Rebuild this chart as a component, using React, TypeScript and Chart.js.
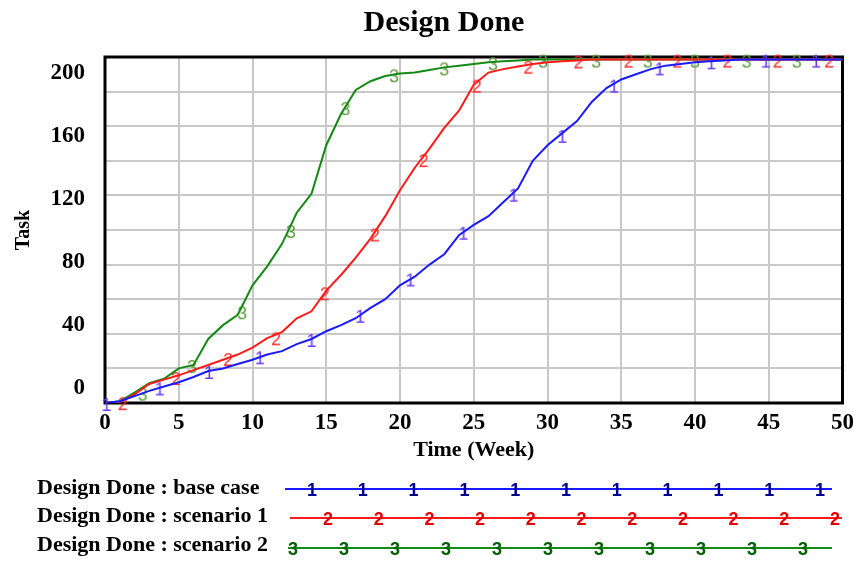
import React, { useEffect, useRef } from 'react';
import { Chart, registerables } from 'chart.js';

Chart.register(...registerables);

// ---- data ----
const WEEKS = [
  0, 1, 2, 3, 4, 5, 6, 7, 8, 9, 10, 11, 12, 13, 14, 15, 16, 17, 18, 19, 20,
  21, 22, 23, 24, 25, 26, 27, 28, 29, 30, 31, 32, 33, 34, 35, 36, 37, 38, 39, 40,
  41, 42, 43, 44, 45, 46, 47, 48, 49, 50,
];
const BASE_CASE = [
  0, 1, 4, 7, 9.5, 12, 15, 18.5, 20, 22.5, 25, 28, 30, 34, 37, 41.5, 45, 49, 55, 60, 68,
  73, 80, 86, 97, 103, 108, 116, 124, 140, 149, 156, 163, 174, 182, 187, 190, 193, 195, 196, 197,
  197.5, 198, 198.5, 198.5, 198.5, 198.5, 198.5, 198.5, 198.5, 198.5,
];
const SCENARIO_1 = [
  0, 0.5, 5, 11, 13.5, 16, 19, 22, 25, 28, 32, 37.5, 41, 49, 53, 65, 74, 84, 95, 108, 123,
  136, 147, 159, 169, 184, 191, 193, 194.5, 196, 197, 197.5, 198, 198.5, 198.5, 198.5, 198.5, 198.5, 198.5, 198.5, 198.5,
  198.5, 198.5, 198.5, 198.5, 198.5, 198.5, 198.5, 198.5, 198.5, 198.5,
];
const SCENARIO_2 = [
  0, 1, 6, 11.5, 14, 20, 22, 37, 45, 51, 68, 79, 92, 110, 121, 149, 167, 181, 186, 189, 190.5,
  191, 192.5, 194, 195, 196, 197, 197.5, 198, 198.5, 198.5, 198.5, 198.5, 198.5, 198.5, 198.5, 198.5, 198.5, 198.5, 198.5, 198.5,
  198.5, 198.5, 198.5, 198.5, 198.5, 198.5, 198.5, 198.5, 198.5, 198.5,
];

// numbered curve markers (time, value) as seen on the picture
const BASE_MARK_T = [0.1, 3.7, 7.05, 10.5, 14.0, 17.3, 20.7, 24.3, 27.7, 31.0, 34.5, 37.6, 41.1, 44.8, 48.2];
const BASE_MARK_V = [0, 9, 18.5, 27, 37, 51, 72, 99, 121, 155, 184, 194, 197.5, 198.5, 198.5];
const S1_MARK_T = [1.2, 4.8, 8.35, 11.6, 14.9, 18.3, 21.6, 25.2, 28.7, 32.1, 35.5, 38.8, 42.2, 45.6, 49.1];
const S1_MARK_V = [0.5, 15, 26, 38, 64, 98, 141, 184, 195, 198, 198.5, 198.5, 198.5, 198.5, 198.5];
const S2_MARK_T = [2.55, 5.9, 9.3, 12.6, 16.3, 19.6, 23.0, 26.3, 29.7, 33.3, 36.8, 40.0, 43.5, 46.9];
const S2_MARK_V = [6, 22, 53, 100, 171, 190, 194, 197, 198.5, 198.5, 198.5, 198.5, 198.5, 198.5];

const Y_TICKS = [0, 40, 80, 120, 160, 200];
const X_STEP = 5;
const TITLE = 'Design Done';
const X_TITLE = 'Time (Week)';
const Y_TITLE = 'Task';
const LEGEND_LABELS = ['Design Done : base case', 'Design Done : scenario 1', 'Design Done : scenario 2'];
const SERIES_COLORS = ['#1a1aff', '#ff1a1a', '#138a13'];
const MARK_COLORS = ['#6a3cf0', '#ff2a2a', '#5c9c3c'];
const LEGEND_MARK_COLORS = ['#000090', '#e00000', '#006000'];
const MARK_CHARS = ['1', '2', '3'];

const FONT = "'Liberation Serif', 'Times New Roman', serif";

function glyph(ch: string, color: string, font: string, w: number, h: number, dy: number) {
  const c = document.createElement('canvas');
  c.width = w;
  c.height = h;
  const g = c.getContext('2d')!;
  g.font = font;
  g.fillStyle = color;
  g.textAlign = 'center';
  g.textBaseline = 'middle';
  g.fillText(ch, w / 2, h / 2 + dy);
  return c;
}

const zip = (xs: number[], ys: number[]) => xs.map((x, i) => ({ x, y: ys[i] }));

export default function App() {
  const ref = useRef<HTMLCanvasElement | null>(null);

  useEffect(() => {
    if (!ref.current) return;
    const marks = MARK_CHARS.map((ch, i) =>
      glyph(ch, MARK_COLORS[i], "18px 'Liberation Sans', Arial, sans-serif", 18, 24, 3)
    );

    const titlePlugin = {
      id: 'customTitle',
      afterDraw(chart: any) {
        const ctx = chart.ctx;
        ctx.save();
        ctx.font = `bold 30px ${FONT}`;
        ctx.fillStyle = '#000';
        ctx.textAlign = 'center';
        ctx.textBaseline = 'middle';
        ctx.fillText(TITLE, 444, 23);
        ctx.restore();
      },
    };

    const framePlugin = {
      id: 'frame',
      beforeDatasetsDraw(chart: any) {
        const { ctx, chartArea } = chart;
        const { left, top, right, bottom } = chartArea;
        ctx.save();
        ctx.strokeStyle = '#000';
        ctx.lineWidth = 3;
        ctx.strokeRect(left, top, right - left, bottom - top);
        ctx.restore();
      },
    };

    const legendRows = [
      { y: 489, ty: 488, x0: 285, x1: 832, m0: 312, step: 50.8 },
      { y: 518, ty: 516, x0: 290, x1: 842, m0: 328, step: 50.7 },
      { y: 548, ty: 545, x0: 288, x1: 832, m0: 293, step: 51 },
    ];
    const legendPlugin = {
      id: 'vensimLegend',
      afterDraw(chart: any) {
        const ctx = chart.ctx;
        ctx.save();
        legendRows.forEach((r, i) => {
          ctx.font = `bold 22px ${FONT}`;
          ctx.fillStyle = '#000';
          ctx.textAlign = 'left';
          ctx.textBaseline = 'middle';
          ctx.fillText(LEGEND_LABELS[i], 37, r.ty);
          ctx.strokeStyle = SERIES_COLORS[i];
          ctx.lineWidth = 2;
          ctx.beginPath();
          ctx.moveTo(r.x0, r.y);
          ctx.lineTo(r.x1, r.y);
          ctx.stroke();
          ctx.font = "bold 18px 'Liberation Sans', Arial, sans-serif";
          ctx.fillStyle = LEGEND_MARK_COLORS[i];
          ctx.textAlign = 'center';
          for (let k = 0; k <= 10; k++) {
            ctx.fillText(MARK_CHARS[i], r.m0 + k * r.step, r.y + 2);
          }
        });
        ctx.restore();
      },
    };

    const lineSet = (label: string, vals: number[], color: string) => ({
      label,
      data: zip(WEEKS, vals),
      borderColor: color,
      backgroundColor: color,
      borderWidth: 2,
      pointRadius: 0,
      tension: 0,
      fill: false,
      yAxisID: 'y',
    });
    const markSet = (label: string, ts: number[], vs: number[], img: HTMLCanvasElement) => ({
      label,
      data: zip(ts, vs),
      showLine: false,
      pointStyle: img,
      pointRadius: 4,
      borderWidth: 0,
      clip: false,
      yAxisID: 'y',
    });

    const gridColor = '#c8c8c8';
    const chart = new Chart(ref.current, {
      type: 'line',
      data: {
        datasets: [
          lineSet(LEGEND_LABELS[0], BASE_CASE, SERIES_COLORS[0]),
          lineSet(LEGEND_LABELS[1], SCENARIO_1, SERIES_COLORS[1]),
          lineSet(LEGEND_LABELS[2], SCENARIO_2, SERIES_COLORS[2]),
          markSet('m1', BASE_MARK_T, BASE_MARK_V, marks[0]),
          markSet('m2', S1_MARK_T, S1_MARK_V, marks[1]),
          markSet('m3', S2_MARK_T, S2_MARK_V, marks[2]),
        ] as any,
      },
      options: {
        animation: false,
        responsive: false,
        devicePixelRatio: 1,
        layout: { padding: { top: 57, left: 0, right: 11, bottom: 94 } },
        plugins: {
          legend: { display: false },
          title: { display: false },
          tooltip: { enabled: false },
        },
        scales: {
          x: {
            type: 'linear',
            min: 0,
            max: 50,
            position: 'bottom',
            ticks: {
              stepSize: X_STEP,
              color: '#000',
              font: { family: FONT, size: 23, weight: 'bold' },
              padding: 6,
              maxRotation: 0,
            },
            grid: { color: gridColor, lineWidth: 2, drawTicks: false },
            border: { display: false },
            title: {
              display: true,
              text: X_TITLE,
              color: '#000',
              font: { family: FONT, size: 22, weight: 'bold' },
              padding: { top: 3, bottom: 3 },
            },
            afterFit: (s: any) => {
              s.height = 64;
            },
          },
          y: {
            type: 'linear',
            position: 'left',
            min: 0,
            max: 200,
            ticks: { stepSize: 20, display: false },
            grid: { color: gridColor, lineWidth: 2, drawTicks: false },
            border: { display: false },
            afterFit: (s: any) => {
              s.width = 0;
            },
          },
          yl: {
            type: 'linear',
            position: 'left',
            min: -9.5,
            max: 210,
            afterBuildTicks: (s: any) => {
              s.ticks = Y_TICKS.map((v) => ({ value: v }));
            },
            ticks: {
              color: '#000',
              font: { family: FONT, size: 23, weight: 'bold' },
              padding: 20,
            },
            grid: { display: false, drawTicks: false },
            border: { display: false },
            title: {
              display: true,
              text: Y_TITLE,
              color: '#000',
              font: { family: FONT, size: 20, weight: 'bold' },
              padding: { top: 12, bottom: 0 },
            },
            afterFit: (s: any) => {
              s.width = 105;
            },
          },
        },
      } as any,
      plugins: [framePlugin, titlePlugin, legendPlugin],
    });
    return () => chart.destroy();
  }, []);

  return (
    <div style={{ position: 'absolute', left: 0, top: 0, width: 860, height: 561, background: '#fff' }}>
      <canvas ref={ref} width={860} height={561} />
    </div>
  );
}
